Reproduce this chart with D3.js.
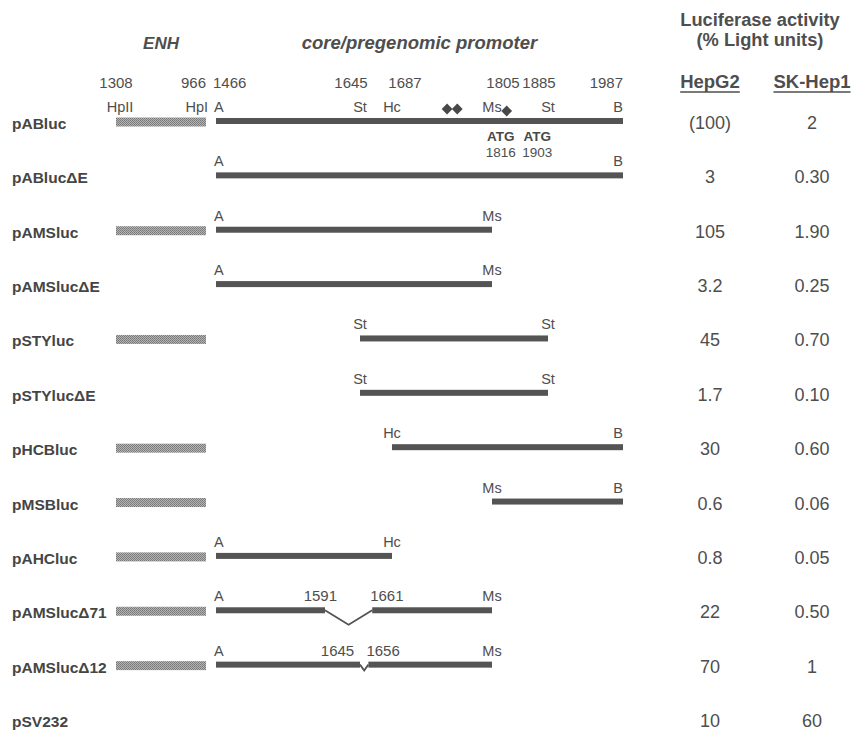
<!DOCTYPE html>
<html><head><meta charset="utf-8">
<script src="https://cdn.jsdelivr.net/npm/d3@7"></script>
<style>
html,body{margin:0;padding:0;background:#fff;}
svg{display:block;font-family:"Liberation Sans",Arial,Helvetica,sans-serif;}
</style></head><body>
<svg id="chart" width="851" height="734"></svg>
<script>
// ---------------- data ----------------
const constructs = ["pABluc","pABlucΔE","pAMSluc","pAMSlucΔE","pSTYluc","pSTYlucΔE","pHCBluc","pMSBluc","pAHCluc","pAMSlucΔ71","pAMSlucΔ12","pSV232"];
const hasEnhancer = [true,false,true,false,true,false,true,true,true,true,true,false];
const fragStart   = [1466,1466,1466,1466,1645,1645,1687,1805,1466,1466,1466,null];
const fragEnd     = [1987,1987,1805,1805,1885,1885,1987,1987,1687,1805,1805,null];
const delStart    = [null,null,null,null,null,null,null,null,null,1591,1645,null];
const delEnd      = [null,null,null,null,null,null,null,null,null,1661,1656,null];
const hepG2  = [100,3,105,3.2,45,1.7,30,0.6,0.8,22,70,10];
const skHep1 = [2,0.30,1.90,0.25,0.70,0.10,0.60,0.06,0.05,0.50,1,60];
const siteNames     = ["A","St","Hc","Ms","St","B"];
const sitePositions = [1466,1645,1687,1805,1885,1987];
const enhSiteNames     = ["HpII","HpI"];
const enhSitePositions = [1308,966];
const boxPositions  = [1752,1764,1826];
const atgPositions  = [1816,1903];
const columns = ["HepG2","SK-Hep1"];

// ---------------- layout / style ----------------
const svg = d3.select("#chart");
const ink = "#484848", barCol = "#545454", textCol = "#4e4e4e";

// schematic (not-to-scale) map of the core/pregenomic promoter region
const xCore = d3.scaleLinear()
  .domain([1466,1591,1645,1687,1805,1885,1987])
  .range([216,325,360,392,492,548,623]);
const xEnh = d3.scaleLinear().domain([1308,966]).range([116,206]);
const y = d3.scalePoint().domain(d3.range(constructs.length)).range([121,719]);
const xCol = d3.scalePoint().domain(columns).range([710,812]);

const defs = svg.append("defs");
const pat = defs.append("pattern").attr("id","stipple").attr("width",2).attr("height",2)
  .attr("patternUnits","userSpaceOnUse");
pat.append("rect").attr("width",2).attr("height",2).attr("fill","#b4b4b4");
pat.append("rect").attr("width",1).attr("height",1).attr("fill","#777");
pat.append("rect").attr("x",1).attr("y",1).attr("width",1).attr("height",1).attr("fill","#808080");

// ---------------- headers ----------------
const hdr = svg.append("g").attr("fill",textCol).attr("font-weight","bold");
hdr.append("text").attr("x",(xEnh(1308)+xEnh(966))/2).attr("y",49).attr("text-anchor","middle")
  .attr("font-style","italic").attr("font-size",17).text("ENH");
hdr.append("text").attr("x",(xCore(1466)+xCore(1987))/2).attr("y",49).attr("text-anchor","middle")
  .attr("font-style","italic").attr("font-size",18.5).text("core/pregenomic promoter");
hdr.append("text").attr("x",760).attr("y",26).attr("text-anchor","middle").attr("font-size",18.3).text("Luciferase activity");
hdr.append("text").attr("x",760).attr("y",46).attr("text-anchor","middle").attr("font-size",18.3).text("(% Light units)");

columns.forEach(c=>{
  const t = svg.append("text").attr("x",xCol(c)).attr("y",88).attr("text-anchor","middle")
    .attr("font-size",18.5).attr("font-weight","bold").attr("fill",textCol).text(c);
  const w = t.node().getComputedTextLength();
  svg.append("line").attr("x1",xCol(c)-w/2).attr("x2",xCol(c)+w/2).attr("y1",92).attr("y2",92)
    .attr("stroke",textCol).attr("stroke-width",1.6);
});

// position numbers over the first construct
const numY = y(0) - 33, siteY = y(0) - 9;
const numNudge = {1645:-9,1687:13,1805:11,1885:-9};
const numG = svg.append("g").attr("font-size",15).attr("fill",textCol);
enhSitePositions.forEach((p,i)=>{
  numG.append("text").attr("x",xEnh(p)).attr("y",numY)
    .attr("text-anchor", i===0 ? "middle" : "end").text(p);
  numG.append("text").attr("x",xEnh(p)+(i===0?4:2)).attr("y",siteY)
    .attr("text-anchor", i===0 ? "middle" : "end").attr("font-size",14.5).text(enhSiteNames[i]);
});
const last = sitePositions.length-1;
sitePositions.forEach((p,i)=>{
  const anchor = i===0 ? "start" : (i===last ? "end" : "middle");
  numG.append("text").attr("x",xCore(p)+(i===0?-3:0)+(numNudge[p]||0)).attr("y",numY)
    .attr("text-anchor",anchor).text(p);
  numG.append("text").attr("x",xCore(p)+(i===0?-2:0)).attr("y",siteY)
    .attr("text-anchor",anchor).attr("font-size",14.5).text(siteNames[i]);
});

// boxes (diamonds) on the first construct
const diamond = d3.symbol().type(d3.symbolSquare).size(58);
boxPositions.forEach((p,i)=>{
  svg.append("path").attr("d",diamond())
    .attr("transform",`translate(${xCore(p)},${y(0)-12 + (i===2?2:0)}) rotate(45)`)
    .attr("fill",ink);
});
// ATG start codons
const atgNudge = [1,-24];
atgPositions.forEach((p,i)=>{
  svg.append("text").attr("x",xCore(p)+atgNudge[i]).attr("y",y(0)+20).attr("text-anchor","middle")
    .attr("font-size",13.5).attr("font-weight","bold").attr("fill",ink).text("ATG");
  svg.append("text").attr("x",xCore(p)+atgNudge[i]).attr("y",y(0)+35.5).attr("text-anchor","middle")
    .attr("font-size",13.5).attr("fill",textCol).text(p);
});

// ---------------- constructs ----------------
const siteName = p => siteNames[sitePositions.indexOf(p)];
constructs.forEach((name,i)=>{
  const yy = y(i);
  svg.append("text").attr("x",12).attr("y",yy+8).attr("font-size",15.5).attr("font-weight","bold")
    .attr("fill","#454545").text(name);

  if (hasEnhancer[i]) {
    svg.append("rect").attr("x",xEnh(1308)).attr("width",xEnh(966)-xEnh(1308))
      .attr("y",yy-4.5+1).attr("height",9).attr("fill","url(#stipple)");
  }
  if (fragStart[i] != null) {
    const s = fragStart[i], e = fragEnd[i];
    const segs = delStart[i]!=null ? [[s,delStart[i]],[delEnd[i],e]] : [[s,e]];
    segs.forEach(([a,b])=>{
      svg.append("rect").attr("x",xCore(a)).attr("width",xCore(b)-xCore(a))
        .attr("y",yy-3).attr("height",6).attr("fill",barCol);
    });
    if (i>0) {
      const lab = svg.append("g").attr("font-size",14.5).attr("fill",textCol);
      const sa = s===sitePositions[0] ? "start" : "middle";
      const ea = e===sitePositions[last] ? "end" : "middle";
      lab.append("text").attr("x",xCore(s)-(sa==="start"?2:0)).attr("y",yy-9).attr("text-anchor",sa).text(siteName(s));
      lab.append("text").attr("x",xCore(e)).attr("y",yy-9).attr("text-anchor",ea).text(siteName(e));
    }
    if (delStart[i]!=null) {
      const gs = xCore(delStart[i]), ge = xCore(delEnd[i]), mid = (gs+ge)/2;
      const depth = 4 + (ge-gs)*0.22;
      svg.append("path").attr("d",`M${gs},${yy}L${mid},${yy+depth}L${ge},${yy}`)
        .attr("fill","none").attr("stroke",barCol).attr("stroke-width",1.8);
      const lg = svg.append("g").attr("font-size",15).attr("fill",textCol);
      lg.append("text").attr("x",Math.min(gs+12,mid-10)).attr("y",yy-9).attr("text-anchor","end").text(delStart[i]);
      lg.append("text").attr("x",Math.max(ge-2,mid-4)).attr("y",yy-9).attr("text-anchor","start").text(delEnd[i]);
    }
  }
});

// ---------------- activity values ----------------
const fmtHep = (v,i) => i===0 ? `(${v})` : String(v);
const fmtSk = v => Number.isInteger(v) ? String(v) : v.toFixed(2);
const vals = svg.append("g").attr("font-size",18).attr("fill",textCol).attr("text-anchor","middle");
vals.selectAll("text.hep").data(hepG2).join("text").attr("class","hep")
  .attr("x",xCol("HepG2")).attr("y",(d,i)=>y(i)+8).text(fmtHep);
vals.selectAll("text.sk").data(skHep1).join("text").attr("class","sk")
  .attr("x",xCol("SK-Hep1")).attr("y",(d,i)=>y(i)+8).text(fmtSk);
</script>
</body></html>
